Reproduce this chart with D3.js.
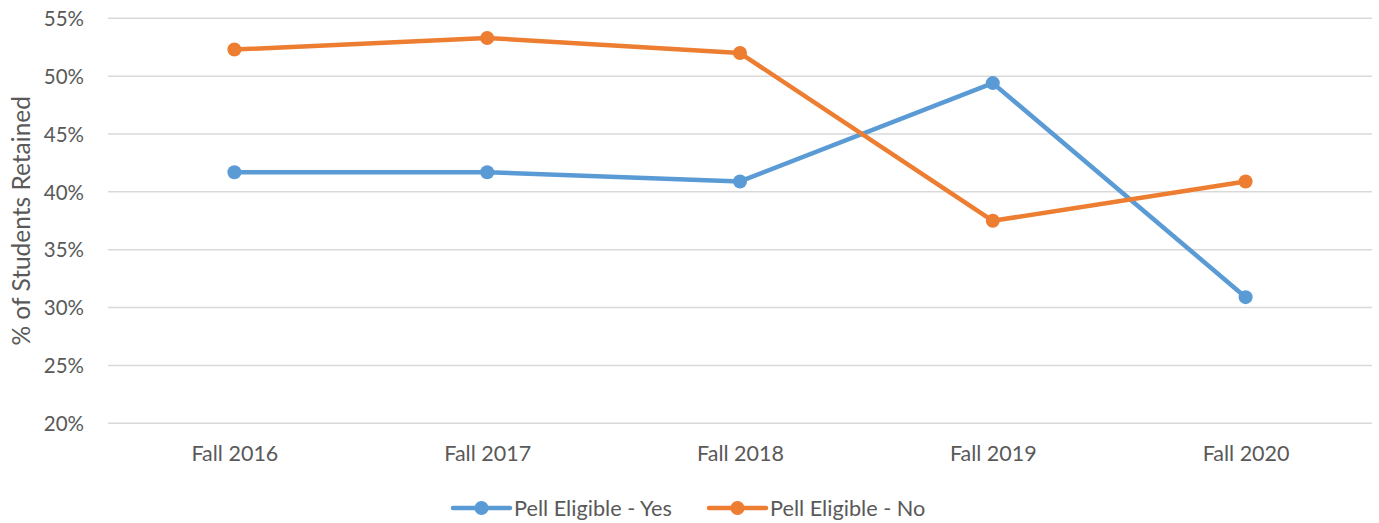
<!DOCTYPE html>
<html><head><meta charset="utf-8">
<script src="https://cdn.jsdelivr.net/npm/d3@7"></script>
<style>body{margin:0;background:#fff}svg{display:block}text{font-family:Lato,sans-serif;fill:#595959}</style>
</head><body><svg id="c" width="1379" height="523"></svg>
<script>
const categories = ["Fall 2016","Fall 2017","Fall 2018","Fall 2019","Fall 2020"];
const pellYes = [41.7, 41.7, 40.9, 49.4, 30.9];
const pellNo = [52.3, 53.3, 52.0, 37.5, 40.9];
const seriesNames = ["Pell Eligible - Yes","Pell Eligible - No"];
const seriesColors = ["#5b9bd5","#ed7d31"];
const yTicks = [20,25,30,35,40,45,50,55];

const svg = d3.select("#c");
const m = {l:108, r:1372, t:18.3, b:423.3};
const x = d3.scalePoint().domain(categories).range([m.l, m.r]).padding(0.5);
const y = d3.scaleLinear().domain([20,55]).range([m.b, m.t]);

// gridlines
svg.append("g").selectAll("line").data(yTicks).join("line")
  .attr("x1", m.l).attr("x2", m.r)
  .attr("y1", d=>y(d)).attr("y2", d=>y(d))
  .attr("stroke","#d9d9d9").attr("stroke-width",1.5);

// y axis labels
const yAxis = d3.axisLeft(y).tickValues(yTicks).tickFormat(d=>d+"%").tickSize(0).tickPadding(0);
const ya = svg.append("g").attr("transform",`translate(${m.l-24},0)`).call(yAxis);
ya.select(".domain").remove();
ya.selectAll("text").attr("font-size",20.5).attr("font-family","Lato").attr("fill","#595959").attr("dy","0.35em");

// x axis labels
const xAxis = d3.axisBottom(x).tickSize(0).tickPadding(0);
const xa = svg.append("g").attr("transform",`translate(0,${m.b+22})`).call(xAxis);
xa.select(".domain").remove();
xa.selectAll("text").attr("font-size",21.5).attr("font-family","Lato").attr("fill","#595959").attr("dy","0.75em");

// y title
svg.append("text").attr("transform",`translate(30,${(m.t+m.b)/2}) rotate(-90)`)
  .attr("text-anchor","middle").attr("font-size",24.5).text("% of Students Retained");

const line = d3.line().x((d,i)=>x(categories[i])).y(d=>y(d));
[pellYes, pellNo].forEach((vals, si)=>{
  svg.append("path").datum(vals).attr("d", line).attr("fill","none")
    .attr("stroke", seriesColors[si]).attr("stroke-width",4.5).attr("stroke-linejoin","round").attr("stroke-linecap","round");
  svg.append("g").selectAll("circle").data(vals).join("circle")
    .attr("cx",(d,i)=>x(categories[i])).attr("cy",d=>y(d)).attr("r",7).attr("fill",seriesColors[si]);
});

// legend
const legX = [453, 709];
seriesNames.forEach((n, i)=>{
  const g = svg.append("g").attr("transform",`translate(${legX[i]},508)`);
  g.append("line").attr("x1",0).attr("x2",57).attr("stroke",seriesColors[i]).attr("stroke-width",4.5).attr("stroke-linecap","round");
  g.append("circle").attr("cx",28.5).attr("r",7).attr("fill",seriesColors[i]);
  g.append("text").attr("x",61).attr("dy","0.35em").attr("font-size",21.7).text(n);
});
</script></body></html>
